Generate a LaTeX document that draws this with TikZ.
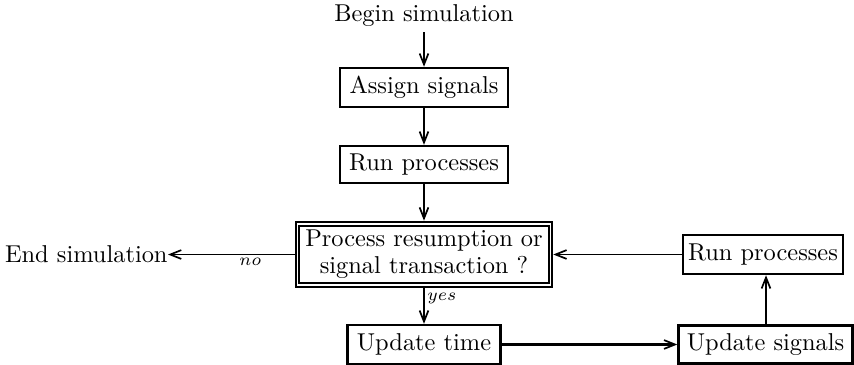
\documentclass[tikz,border=0pt]{standalone}
\usetikzlibrary{arrows.meta}
\begin{document}
\begin{tikzpicture}[x=0.41pt,y=-0.41pt,
  box/.style={draw,line width=1pt,inner sep=0pt,align=center},
  conn/.style={line width=0.7pt,-{Straight Barb[length=4.5pt,width=3.6pt,line width=0.7pt]}},
  lbl/.style={font=\scriptsize,inner sep=1pt}]
\useasboundingbox (0,0) rectangle (854,365);
\node[inner sep=2pt] (begin) at (424,16) {Begin simulation};
\node[box,minimum width=168*0.41pt,minimum height=39*0.41pt] (assign) at (424,87.5) {Assign signals};
\node[box,minimum width=168*0.41pt,minimum height=37*0.41pt] (run1) at (424,164.5) {Run processes};
\node[box,line width=1.1pt,minimum width=256*0.41pt,minimum height=65*0.41pt] (dec) at (424,254.5) {Process resumption or\\[-1pt] signal transaction ?};
\draw[line width=0.8pt] ([shift={(4.5,5)}]dec.north west) rectangle ([shift={(-4.5,-5)}]dec.south east);
\node[box,minimum width=153*0.41pt,minimum height=39*0.41pt] (utime) at (424,344.5) {Update time};
\node[box,minimum width=174*0.41pt,minimum height=38*0.41pt] (usig) at (765.5,344.5) {Update signals};
\node[box,minimum width=160*0.41pt,minimum height=39*0.41pt] (run2) at (763,254.5) {Run processes};
\node[inner sep=0pt,anchor=east] (endsim) at (168,254.5) {End simulation};
\coordinate (ax) at (766,300);
\draw[conn] (begin.south) -- (assign.north);
\draw[conn] (assign.south) -- (run1.north);
\draw[conn] (run1.south) -- (dec.north);
\draw[conn] (dec.south) -- node[lbl,right,pos=0.3]{$yes$} (utime.north);
\draw[conn,line width=1.1pt] (utime.east) -- (usig.west);
\draw[conn] (ax |- usig.north) -- (ax |- run2.south);
\draw[conn] (run2.west) -- (dec.east);
\draw[conn] (dec.west) -- node[lbl,below,pos=0.35]{$no$} (endsim.east);
\end{tikzpicture}
\end{document}
